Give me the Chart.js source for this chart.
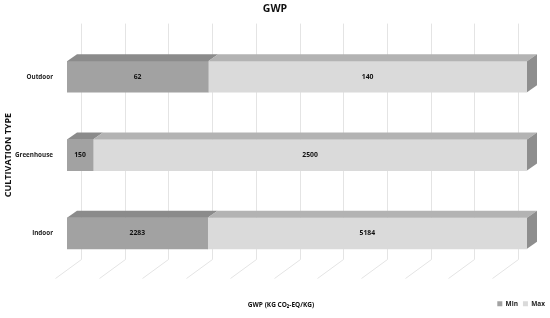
<!DOCTYPE html>
<html><head><meta charset="utf-8">
<script src="https://cdn.jsdelivr.net/npm/chart.js@4.4.1/dist/chart.umd.min.js"></script>
<style>html,body{margin:0;padding:0;background:#fff}#c{display:block}</style>
</head><body>
<canvas id="c" width="550" height="318"></canvas>
<script>
const categories = ["Outdoor", "Greenhouse", "Indoor"];
const minValues = [62, 150, 2283];
const maxValues = [140, 2500, 5184];
const seriesNames = ["Min", "Max"];
const xTicks = [0, 10, 20, 30, 40, 50, 60, 70, 80, 90, 100];

const totals = categories.map((_, i) => minValues[i] + maxValues[i]);
const minPct = minValues.map((v, i) => v / totals[i] * 100);
const maxPct = maxValues.map((v, i) => v / totals[i] * 100);
const rawValues = [minValues, maxValues];

const FONT = "'Open Sans', 'Liberation Sans', sans-serif";
const DX = 10, DY = 7;

const threeD = {
  id: 'threeD',
  beforeDatasetsDraw(chart) {
    const ctx = chart.ctx, xs = chart.scales.x, area = chart.chartArea;
    const left = xs.getPixelForValue(0);
    ctx.save();
    ctx.strokeStyle = '#e4e4e4';
    ctx.lineWidth = 1;
    const top = area.top - 14, bot = area.bottom - 13;
    xTicks.forEach(v => {
      const px = xs.getPixelForValue(v);
      const bx = Math.round(left + 14 + (px - left) * 0.95) + 0.5;
      ctx.beginPath();
      ctx.moveTo(bx, top);
      ctx.lineTo(bx, bot);
      ctx.lineTo(bx - 26, bot + 19);
      ctx.stroke();
    });
    ctx.restore();
  },
  afterDatasetsDraw(chart) {
    const ctx = chart.ctx;
    const topCols = ['#8b8b8b', '#b3b3b3'];
    ctx.save();
    chart.data.datasets.forEach((ds, di) => {
      const meta = chart.getDatasetMeta(di);
      meta.data.forEach((bar, i) => {
        const p = bar.getProps(['x', 'y', 'base', 'height'], true);
        const x0 = Math.min(p.base, p.x), x1 = Math.max(p.base, p.x);
        const t = p.y - p.height / 2, b = p.y + p.height / 2;
        ctx.fillStyle = topCols[di];
        ctx.beginPath();
        ctx.moveTo(x0, t); ctx.lineTo(x1, t);
        ctx.lineTo(x1 + DX, t - DY); ctx.lineTo(x0 + DX, t - DY);
        ctx.closePath(); ctx.fill();
        if (di === chart.data.datasets.length - 1) {
          ctx.fillStyle = '#8e8e8e';
          ctx.beginPath();
          ctx.moveTo(x1, t); ctx.lineTo(x1 + DX, t - DY);
          ctx.lineTo(x1 + DX, b - DY); ctx.lineTo(x1, b);
          ctx.closePath(); ctx.fill();
        }
        ctx.fillStyle = '#111';
        ctx.font = 'bold 6.8px ' + FONT;
        ctx.textAlign = 'center';
        ctx.textBaseline = 'middle';
        ctx.fillText(String(rawValues[di][i]), (x0 + x1) / 2, p.y);
      });
    });
    ctx.fillStyle = '#111';
    ctx.font = 'bold 6.5px ' + FONT;
    ctx.textAlign = 'center';
    ctx.textBaseline = 'middle';
    ctx.fillText('GWP (KG CO\u2082-EQ/KG)', 281, 305);
    ctx.restore();
  }
};

new Chart(document.getElementById('c'), {
  type: 'bar',
  data: {
    labels: categories,
    datasets: [
      { label: seriesNames[0], data: minPct, backgroundColor: '#a2a2a2', borderWidth: 0, barThickness: 31 },
      { label: seriesNames[1], data: maxPct, backgroundColor: '#dadada', borderWidth: 0, barThickness: 31 }
    ]
  },
  options: {
    indexAxis: 'y',
    responsive: false,
    animation: false,
    layout: { padding: { left: 0, right: 0, top: 0, bottom: 1 } },
    scales: {
      x: {
        stacked: true, min: 0, max: 100,
        ticks: { display: false, stepSize: 10 },
        grid: { display: false, drawTicks: false },
        border: { display: false },
        afterFit: s => { s.height = 23; }
      },
      y: {
        stacked: true,
        grid: { display: false, drawTicks: false },
        border: { display: false },
        ticks: { color: '#222', font: { family: FONT, size: 6.3, weight: 'bold' }, padding: 14 },
        title: { display: true, text: 'CULTIVATION TYPE', color: '#111', font: { family: FONT, size: 9, weight: 'bold' }, padding: { top: 3, bottom: 0 } },
        afterFit: s => { s.width = 67; }
      },
      yr: {
        position: 'right',
        grid: { display: false, drawTicks: false },
        border: { display: false },
        ticks: { display: false },
        afterFit: s => { s.width = 23; }
      }
    },
    plugins: {
      title: { display: true, text: 'GWP', color: '#111', font: { family: FONT, size: 10.5, weight: 'bold' }, padding: { top: 3, bottom: 22 } },
      legend: {
        position: 'bottom', align: 'end',
        labels: { boxWidth: 5, boxHeight: 5, padding: 5, color: '#222', font: { family: FONT, size: 6.5, weight: 'bold' } }
      },
      tooltip: { enabled: false }
    }
  },
  plugins: [threeD]
});
</script>
</body></html>
